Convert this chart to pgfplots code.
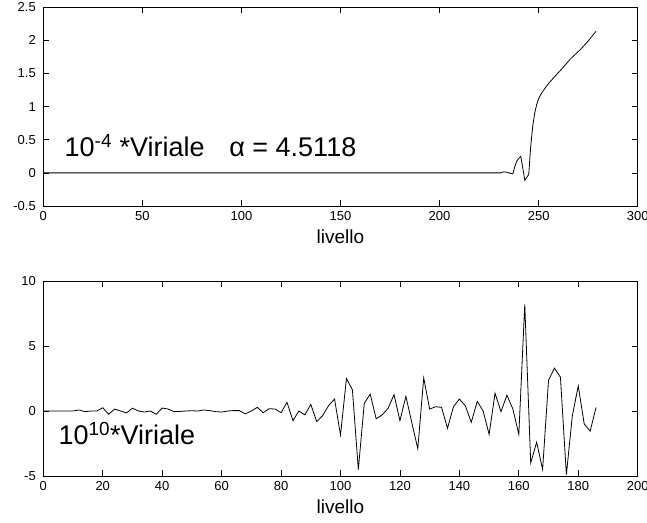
\documentclass[border=0pt]{standalone}
\usepackage{fontspec}
\setmainfont{Liberation Sans}
\usepackage{pgfplots}
\pgfplotsset{compat=1.18}
\begin{document}
\begin{tikzpicture}
\pgfplotsset{
  mystyle/.style={
    scale only axis,
    width=594.4pt,
    axis line style={line width=0.9pt},
    tick align=inside,
    major tick length=6pt,
    every tick/.style={black, line width=0.7pt},
    tick label style={font=\fontsize{13}{15}\selectfont},
    yticklabel style={xshift=-4pt},
    xticklabel style={yshift=-2pt},
    xlabel style={font=\fontsize{19}{22}\selectfont, at={(axis description cs:0.5,0)}, anchor=base, yshift=-37pt},
    xlabel={livello},
  }
}
\begin{axis}[mystyle, name=top, at={(0,0)}, anchor=north west,
  height=198.7pt,
  xmin=0, xmax=300, ymin=-0.5, ymax=2.5,
  xtick={0,50,100,150,200,250,300},
  xticklabels={0,50,100,150,200,250,300},
  ytick={-0.5,0,0.5,1,1.5,2,2.5},
  yticklabels={-0.5,0,0.5,1,1.5,2,2.5},
]
\addplot[black, line width=0.8pt] coordinates {
(0,0) (231,0) (232,0.015) (234,0.01) (236,-0.01) (237,-0.015) (238,0.1) (239,0.18) (240,0.22) (241,0.25)
(243,-0.11) (245,-0.025) (246,0.4) (247,0.7) (248,0.9) (249,1.03) (250,1.12) (251,1.18) (253,1.27)
(255,1.35) (258,1.45) (262,1.58) (266,1.72) (271,1.86) (275,1.99) (279,2.14)
};
\node[anchor=base west, inner sep=0pt, font=\fontsize{27}{30}\selectfont] at (axis cs:10.7,0.25) {10\textsuperscript{-4} *Viriale};
\node[anchor=base west, inner sep=0pt, font=\fontsize{27}{30}\selectfont] at (axis cs:93.8,0.25) {α = 4.5118};
\end{axis}
\begin{axis}[mystyle, name=bot, at={(0,-273.7pt)}, anchor=north west,
  height=195pt,
  xmin=0, xmax=200, ymin=-5, ymax=10,
  xtick={0,20,40,60,80,100,120,140,160,180,200},
  xticklabels={0,20,40,60,80,100,120,140,160,180,200},
  ytick={-5,0,5,10},
  yticklabels={-5,0,5,10},
]
\addplot[black, line width=0.8pt] coordinates {
(0,0) (2,0) (4,0) (6,0) (8,0) (10,0) (12,0.08) (14,-0.05) (16,0) (18,0) (20,0.25) (22,-0.25) (24,0.15)
(26,0) (28,-0.15) (30,0.22) (32,0) (34,-0.08) (36,0) (38,-0.25) (40,0.23) (42,0.15) (44,-0.05) (46,-0.03)
(48,0) (50,0.02) (52,0) (54,0.08) (56,0.03) (58,-0.05) (60,-0.08) (62,0) (64,0.03) (66,0.03) (68,-0.22)
(70,0) (72,0.28) (74,-0.13) (76,0.18) (78,0.15) (80,-0.13) (82,0.67) (84,-0.74) (86,0) (88,-0.3)
(90,0.51) (92,-0.82) (94,-0.35) (96,0.41) (98,0.92) (100,-1.85) (102,2.5) (104,1.64) (106,-4.5)
(108,0.6) (110,1.3) (112,-0.6) (114,-0.3) (116,0.2) (118,1.26) (120,-0.74) (122,1.13) (124,-0.9)
(126,-2.9) (128,2.54) (130,0.15) (132,0.33) (134,0.28) (136,-1.33) (138,0.33) (140,0.92) (142,0.4)
(144,-0.87) (146,0.74) (148,0) (150,-1.8) (152,1.37) (154,-0.05) (156,1.22) (158,0.15) (160,-1.8)
(162,8.2) (164,-4) (166,-2.4) (168,-4.5) (170,2.37) (172,3.3) (174,2.6) (176,-4.9) (178,-0.36)
(180,1.93) (182,-1) (184,-1.55) (186,0.28)
};
\node[anchor=base west, inner sep=0pt, font=\fontsize{27}{30}\selectfont] at (axis cs:5.1,-2.6) {10\textsuperscript{10}*Viriale};
\end{axis}
\pgfresetboundingbox
\path[use as bounding box] (-43.3pt,-514.7pt) rectangle (603.7pt,7.3pt);
\end{tikzpicture}
\end{document}
